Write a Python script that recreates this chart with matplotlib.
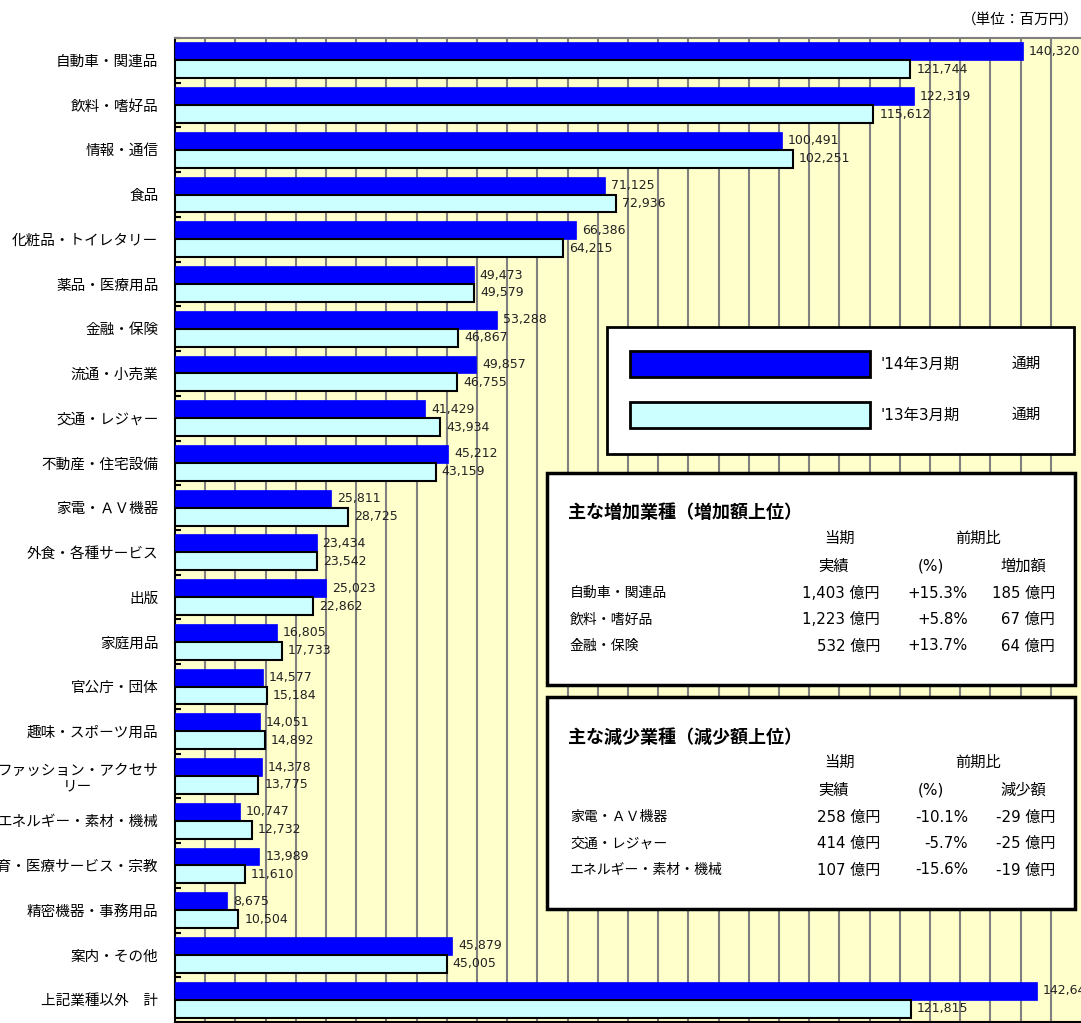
import numpy as np
import matplotlib
matplotlib.use("Agg")
import matplotlib.pyplot as plt
from matplotlib.patches import Rectangle

# chart data (百万円)
categories = ['自動車・関連品', '飲料・嗜好品', '情報・通信', '食品', '化粧品・トイレタリー',
              '薬品・医療用品', '金融・保険', '流通・小売業', '交通・レジャー', '不動産・住宅設備',
              '家電・ＡＶ機器', '外食・各種サービス', '出版', '家庭用品', '官公庁・団体',
              '趣味・スポーツ用品', 'ファッション・アクセサ\nリー', 'エネルギー・素材・機械',
              '教育・医療サービス・宗教', '精密機器・事務用品', '案内・その他', '上記業種以外　計']
fy14 = [140320, 122319, 100491, 71125, 66386, 49473, 53288, 49857, 41429, 45212,
        25811, 23434, 25023, 16805, 14577, 14051, 14378, 10747, 13989, 8675, 45879, 142647]
fy13 = [121744, 115612, 102251, 72936, 64215, 49579, 46867, 46755, 43934, 43159,
        28725, 23542, 22862, 17733, 15184, 14892, 13775, 12732, 11610, 10504, 45005, 121815]
series_names = ["'14年3月期", "'13年3月期"]

# side tables
inc_names = ['自動車・関連品', '飲料・嗜好品', '金融・保険']
inc_val = ['1,403', '1,223', '532']
inc_pct = ['+15.3%', '+5.8%', '+13.7%']
inc_amt = ['185', '67', '64']
dec_names = ['家電・ＡＶ機器', '交通・レジャー', 'エネルギー・素材・機械']
dec_val = ['258', '414', '107']
dec_pct = ['-10.1%', '-5.7%', '-15.6%']
dec_amt = ['-29', '-25', '-19']

JP = ['Noto Sans CJK JP', 'DejaVu Sans']
MIX = ['DejaVu Sans', 'Noto Sans CJK JP']
plt.rcParams['font.family'] = JP

W, H = 1081, 1023
fig = plt.figure(figsize=(W / 100, H / 100), dpi=100)


def fx(x):
    return x / W


def fy(y):
    return 1 - y / H


ax = fig.add_axes([fx(175), fy(1022), fx(1081) - fx(175), fy(38) - fy(1022)])
ax.set_facecolor('#FFFFCC')

y = np.arange(len(categories))
ax.barh(y - 0.2, fy14, height=0.4, color='#0000FF', edgecolor='#0000FF', lw=0.5, zorder=3)
ax.barh(y + 0.2, fy13, height=0.4, color='#CCFFFF', edgecolor='black', lw=1.5, zorder=3)

for i in range(len(categories)):
    ax.annotate(f'{fy14[i]:,}', (fy14[i], y[i] - 0.2), xytext=(6, 0), textcoords='offset pixels',
                va='center', ha='left', fontsize=9, family='DejaVu Sans', color='#222222',
                annotation_clip=False, zorder=5)
    ax.annotate(f'{fy13[i]:,}', (fy13[i], y[i] + 0.2), xytext=(6, 0), textcoords='offset pixels',
                va='center', ha='left', fontsize=9, family='DejaVu Sans', color='#222222',
                annotation_clip=False, zorder=5)

ax.set_xlim(0, 150000)
ax.set_ylim(len(categories) - 0.5, -0.5)
for gx in range(5000, 150000, 5000):
    ax.axvline(gx, color='#808080', lw=1.5, zorder=1)

ax.set_xticks([])
ax.set_yticks(y)
ax.set_yticklabels(categories, fontsize=10.5, multialignment='center')
ax.tick_params(axis='y', length=0, pad=12)
ax.set_yticks(np.arange(len(categories)) - 0.5, minor=True)
ax.tick_params(axis='y', which='minor', direction='in', length=4, width=1.5, color='black')
ax.spines['left'].set_linewidth(1.5)
ax.spines['bottom'].set_linewidth(1.5)
ax.spines['top'].set_color('#808080')
ax.spines['top'].set_linewidth(1.5)
ax.spines['right'].set_visible(False)

fig.text(fx(1079), fy(20), '（単位：百万円）', ha='right', va='center', fontsize=10.5)

# legend box
fig.patches.append(Rectangle((fx(607), fy(454)), fx(1074) - fx(607), fy(327) - fy(454),
                             transform=fig.transFigure, facecolor='white', edgecolor='black',
                             lw=2, zorder=10))
for k, (col, yy) in enumerate([('#0000FF', 364), ('#CCFFFF', 415)]):
    fig.patches.append(Rectangle((fx(630), fy(yy + 13)), fx(870) - fx(630), fy(yy - 13) - fy(yy + 13),
                                 transform=fig.transFigure, facecolor=col, edgecolor='black',
                                 lw=2, zorder=11))
    fig.text(fx(880), fy(yy), series_names[k], ha='left', va='center', fontsize=11,
             family=MIX, zorder=12)
    fig.text(fx(1012), fy(yy), '通期', ha='left', va='center', fontsize=10.5, zorder=12)


def table_box(top, title, head3, names, vals, pcts, amts):
    fig.patches.append(Rectangle((fx(547), fy(top + 212)), fx(1075) - fx(547), fy(top) - fy(top + 212),
                                 transform=fig.transFigure, facecolor='white', edgecolor='black',
                                 lw=2.5, zorder=10))
    fig.text(fx(568), fy(top + 40), title, ha='left', va='center', fontsize=13,
             fontweight='bold', zorder=12)
    fig.text(fx(839), fy(top + 65), '当期', ha='center', va='center', fontsize=11, zorder=12)
    fig.text(fx(978), fy(top + 65), '前期比', ha='center', va='center', fontsize=11, zorder=12)
    fig.text(fx(833), fy(top + 93), '実績', ha='center', va='center', fontsize=11, zorder=12)
    fig.text(fx(931), fy(top + 93), '(%)', ha='center', va='center', fontsize=11, family=MIX, zorder=12)
    fig.text(fx(1023), fy(top + 93), head3, ha='center', va='center', fontsize=11, zorder=12)
    for r in range(len(names)):
        ry = top + 120 + r * 26.5
        fig.text(fx(570), fy(ry), names[r], ha='left', va='center', fontsize=10, zorder=12)
        fig.text(fx(880), fy(ry), vals[r] + ' 億円', ha='right', va='center', fontsize=10.8,
                 family=MIX, zorder=12)
        fig.text(fx(968), fy(ry), pcts[r], ha='right', va='center', fontsize=10.8,
                 family=MIX, zorder=12)
        fig.text(fx(1055), fy(ry), amts[r] + ' 億円', ha='right', va='center', fontsize=10.8,
                 family=MIX, zorder=12)


table_box(473, '主な増加業種（増加額上位）', '増加額', inc_names, inc_val, inc_pct, inc_amt)
table_box(697, '主な減少業種（減少額上位）', '減少額', dec_names, dec_val, dec_pct, dec_amt)

fig.savefig('out.png', dpi=100)
